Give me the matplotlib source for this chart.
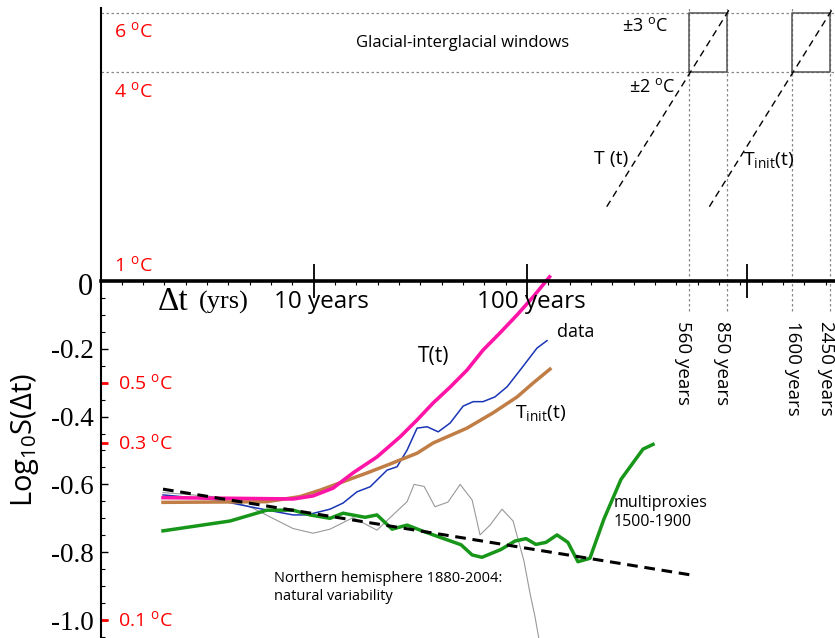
import matplotlib
matplotlib.use("Agg")
import matplotlib.pyplot as plt
import numpy as np

plt.rcParams['font.family'] = ['Open Sans', 'DejaVu Sans']
plt.rcParams['mathtext.fontset'] = 'custom'
plt.rcParams['mathtext.rm'] = 'Open Sans'
plt.rcParams['mathtext.it'] = 'Open Sans:italic'
plt.rcParams['mathtext.bf'] = 'Open Sans:bold'

# x values are log10 of the time lag (years), y values are log10 S(dt)
t_x = [0.293, 0.902, 0.996, 1.090, 1.184, 1.296, 1.404, 1.484, 1.559, 1.639,
       1.718, 1.793, 1.873, 1.953, 2.028, 2.093, 2.105]
t_y = [-0.639, -0.643, -0.634, -0.611, -0.566, -0.519, -0.460, -0.410, -0.360, -0.313,
       -0.263, -0.204, -0.153, -0.100, -0.047, 0.003, 0.012]

tinit_x = [0.293, 0.780, 0.935, 1.029, 1.137, 1.250, 1.357, 1.404, 1.484, 1.559,
           1.718, 1.840, 1.953, 2.028, 2.107]
tinit_y = [-0.653, -0.651, -0.636, -0.617, -0.592, -0.566, -0.540, -0.528, -0.508, -0.478,
           -0.434, -0.389, -0.342, -0.301, -0.260]

data_x = [0.293, 0.546, 0.701, 0.902, 0.968, 1.076, 1.137, 1.202, 1.264, 1.343,
          1.390, 1.437, 1.484, 1.531, 1.583, 1.639, 1.700, 1.747, 1.793, 1.849,
          1.906, 1.967, 2.046, 2.093]
data_y = [-0.631, -0.646, -0.666, -0.690, -0.690, -0.673, -0.655, -0.622, -0.607, -0.558,
          -0.548, -0.499, -0.434, -0.430, -0.445, -0.419, -0.369, -0.356, -0.356, -0.342,
          -0.312, -0.263, -0.198, -0.176]

nh_x = [0.293, 0.527, 0.701, 0.902, 0.996, 1.076, 1.184, 1.296, 1.371, 1.437,
        1.470, 1.517, 1.568, 1.629, 1.686, 1.742, 1.779, 1.826, 1.882, 1.934,
        1.985, 2.013, 2.037, 2.056]
nh_y = [-0.624, -0.636, -0.666, -0.730, -0.744, -0.732, -0.698, -0.735, -0.690, -0.651,
        -0.600, -0.606, -0.666, -0.652, -0.600, -0.646, -0.749, -0.720, -0.673, -0.708,
        -0.826, -0.920, -0.991, -1.059]

mp_x = [0.293, 0.607, 0.780, 0.902, 0.982, 1.076, 1.137, 1.240, 1.296, 1.367,
        1.437, 1.507, 1.578, 1.690, 1.742, 1.788, 1.877, 1.943, 1.995, 2.041,
        2.088, 2.140, 2.191, 2.238, 2.294, 2.360, 2.440, 2.492, 2.543, 2.590]
mp_y = [-0.737, -0.708, -0.676, -0.676, -0.690, -0.700, -0.685, -0.697, -0.690, -0.732,
        -0.720, -0.737, -0.753, -0.778, -0.808, -0.815, -0.792, -0.767, -0.760, -0.777,
        -0.771, -0.749, -0.771, -0.828, -0.818, -0.702, -0.585, -0.540, -0.496, -0.482]

trend_x = [0.293, 2.777]
trend_y = [-0.614, -0.868]

# glacial-interglacial window (upper part)
window_y = [0.617, 0.790]
window_x = [[2.760, 2.937], [3.243, 3.419]]
proj_t_x = [2.373, 2.951]
proj_t_y = [0.219, 0.804]
proj_tinit_x = [2.854, 3.433]
proj_tinit_y = [0.219, 0.804]
year_marks = [2.760, 2.937, 3.243, 3.419]
year_labels = ['560 years', '850 years', '1600 years', '2450 years']
year_label_x = [2.731, 2.914, 3.247, 3.402]

yticks = [-0.2, -0.4, -0.6, -0.8, -1.0]
ytick_labels = ['-0.2', '-0.4', '-0.6', '-0.8', '-1.0']
xticks = [1, 2, 3.03]
red_lower = [-0.30, -0.477, -1.0]
red_lower_labels = ['0.5', '0.3', '0.1']
red_upper = [0.737, 0.560, 0.047]
red_upper_labels = ['6', '4', '1']

fig = plt.figure(figsize=(8.35, 6.38), dpi=100)
ax = fig.add_axes([100.5 / 835, 0, 1 - 100.5 / 835, 630 / 638])
ax.set_xlim(0, 3.443)
ax.set_ylim(-1.053, 0.805)

for s in ['top', 'right']:
    ax.spines[s].set_visible(False)
ax.spines['left'].set_linewidth(1.5)
ax.spines['bottom'].set_position(('data', 0))
ax.spines['bottom'].set_linewidth(2.6)

ax.set_xticks(xticks)
ax.set_xticklabels([])
ax.set_xticks(np.arange(0.1, 3.44, 0.1), minor=True)
ax.tick_params(axis='x', which='major', direction='inout', length=24, width=1.3)
ax.tick_params(axis='x', which='minor', direction='out', length=3, width=0.8)

ax.set_yticks(yticks)
ax.set_yticklabels(ytick_labels, family='Liberation Serif', fontsize=19.5)
ax.set_yticks([v for v in np.arange(-1.05, 0.0, 0.05) if min(abs(v - t) for t in yticks + [0]) > 0.01], minor=True)
ax.tick_params(axis='y', which='major', direction='in', length=5, width=1, pad=5)
ax.tick_params(axis='y', which='minor', direction='in', length=3, width=0.8)
ax.text(-0.035, -0.02, '0', family='Liberation Serif', fontsize=22, ha='right', va='center')

# dotted reference lines
for yv in window_y:
    ax.axhline(yv, color='#888888', lw=0.9, ls=(0, (2, 2)))
for xv in year_marks:
    ax.plot([xv, xv], [-0.09, 0.805], color='#888888', lw=0.9, ls=(0, (2, 2)), clip_on=False)
for x0, x1 in window_x:
    ax.plot([x0, x1, x1, x0, x0], [window_y[0], window_y[0], window_y[1], window_y[1], window_y[0]],
            color='#555555', lw=1.1)
ax.plot(proj_t_x, proj_t_y, color='black', lw=1, ls=(0, (5, 3.5)))
ax.plot(proj_tinit_x, proj_tinit_y, color='black', lw=1, ls=(0, (5, 3.5)))

# curves
ax.plot(nh_x, nh_y, color='#999999', lw=0.8, clip_on=False)
ax.plot(data_x, data_y, color='#1a35b5', lw=1.1)
ax.plot(mp_x, mp_y, color='#17961a', lw=2.5)
ax.plot(tinit_x, tinit_y, color='#c07d45', lw=2.5)
ax.plot(t_x, t_y, color='#ff14a8', lw=2.6)
ax.plot(trend_x, trend_y, color='black', lw=2.2, ls=(0, (3.5, 2.2)))

# red temperature markers
ax.hlines(red_lower, 0, 0.035, color='red', lw=2)
for yv, lab in zip(red_lower, red_lower_labels):
    ax.text(0.083, yv, lab + ' $^{\\mathrm{o}}$C', color='red', fontsize=14, va='center', ha='left')
for yv, lab in zip(red_upper, red_upper_labels):
    ax.text(0.062, yv, lab + ' $^{\\mathrm{o}}$C', color='red', fontsize=14, va='center', ha='left')

# x axis annotations
ax.text(0.27, -0.062, '\u0394t', family='Liberation Serif', fontsize=24, va='center', ha='left')
ax.text(0.462, -0.062, '(yrs)', family='Liberation Serif', fontsize=19, va='center', ha='left')
ax.text(0.813, -0.062, '10 years', fontsize=17.5, va='center', ha='left')
ax.text(1.765, -0.062, '100 years', fontsize=17.5, va='center', ha='left')
for xv, lab in zip(year_label_x, year_labels):
    ax.text(xv, -0.118, lab, fontsize=13.5, rotation=270, ha='center', va='top', clip_on=False)

# upper annotations
ax.text(1.695, 0.702, 'Glacial-interglacial windows', fontsize=12, ha='center', va='center')
ax.text(2.662, 0.752, '\u00b13 $^{\\mathrm{o}}$C', fontsize=13, ha='right', va='center')
ax.text(2.694, 0.572, '\u00b12 $^{\\mathrm{o}}$C', fontsize=13, ha='right', va='center')
ax.text(2.314, 0.360, 'T (t)', fontsize=14, ha='left', va='center')
ax.text(3.012, 0.357, 'T$_{\\mathrm{init}}$(t)', fontsize=14, ha='left', va='center')

# curve labels
ax.text(2.140, -0.150, 'data', fontsize=13, ha='left', va='center')
ax.text(1.488, -0.224, 'T(t)', fontsize=15, ha='left', va='center')
ax.text(1.943, -0.389, 'T$_{\\mathrm{init}}$(t)', fontsize=14, ha='left', va='center')
ax.text(2.403, -0.683, 'multiproxies\n1500-1900', fontsize=11.5, ha='left', va='center', linespacing=1.2)
ax.text(0.813, -0.904, 'Northern hemisphere 1880-2004:\nnatural variability', fontsize=10.5,
        ha='left', va='center', linespacing=1.25)

ax.text(-0.354, -0.469, 'Log$_{\\mathrm{10}}$S(\u0394t)', fontsize=21, rotation=90,
        ha='center', va='center')

fig.savefig('out.png', dpi=100)
